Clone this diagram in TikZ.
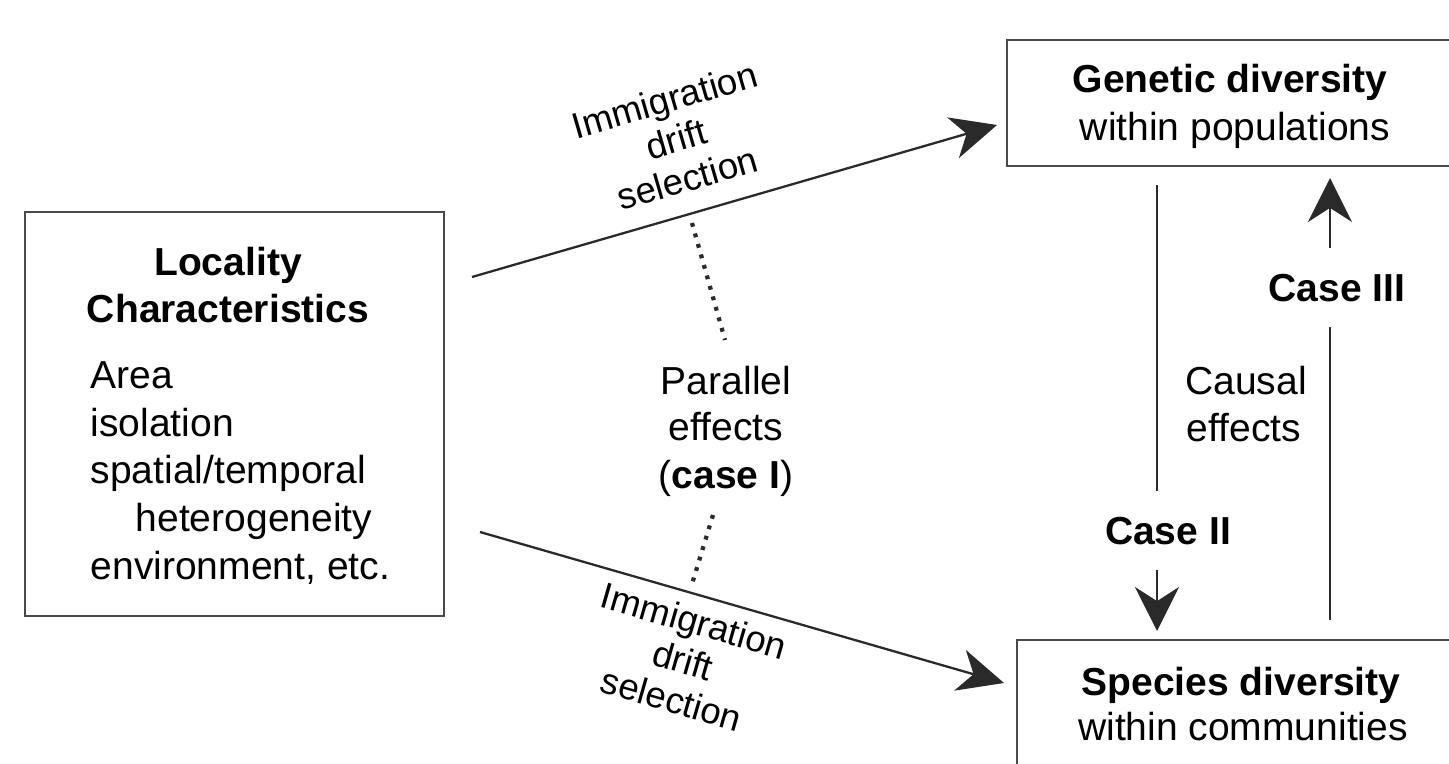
\documentclass[tikz,border=0pt]{standalone}
\usepackage{fontspec}
\setmainfont{Liberation Sans}
\usetikzlibrary{arrows.meta}
\definecolor{linegray}{HTML}{2A2A2A}
\definecolor{boxgray}{HTML}{4A4A4A}
\tikzset{
  box/.style={draw=boxgray, line width=0.65pt, inner sep=0pt},
  txt/.style={font=\fontsize{11.1pt}{13.4pt}\selectfont, inner sep=0pt, anchor=base, text=black},
  rot/.style={font=\fontsize{10.4pt}{11.6pt}\selectfont, inner sep=0pt, align=center, text=black},
  conn/.style={draw=linegray, line width=0.65pt},
  bigarrow/.style={conn, -{Stealth[length=13pt, width=12pt, inset=4pt]}},
  dots/.style={draw=linegray, line width=1.2pt, dash pattern=on 1.1pt off 2.0pt},
}
\begin{document}
\begin{tikzpicture}[x=0.01cm, y=-0.01cm]
\useasboundingbox (0,0) rectangle (1449,764);
\clip (0,0) rectangle (1449,764);
\fill[white] (0,0) rectangle (1449,764);
% boxes
\node[box, minimum width=4.19cm, minimum height=4.04cm] (loc) at (234.5,414) {};
\node[box, minimum width=4.60cm, minimum height=1.26cm] (gen) at (1237,103) {};
\node[box, minimum width=4.60cm, minimum height=1.60cm] (spe) at (1247,720) {};
% left box text
\node[txt, font=\fontsize{11.1pt}{13.4pt}\selectfont\bfseries] (t1) at (228,276) {Locality};
\node[txt, font=\fontsize{11.1pt}{13.4pt}\selectfont\bfseries] (t2) at (228,323) {Characteristics};
\node[txt, anchor=base west] (l1) at (90,389) {Area};
\node[txt, anchor=base west] (l2) at (90,436) {isolation};
\node[txt, anchor=base west] (l3) at (90,483) {spatial/temporal};
\node[txt, anchor=base west] (l4) at (135,531) {heterogeneity};
\node[txt, anchor=base west] (l5) at (90,579) {environment, etc.};
% right boxes text
\node[txt, font=\fontsize{11.1pt}{13.4pt}\selectfont\bfseries] (g1) at (1230,93) {Genetic diversity};
\node[txt] (g2) at (1235,141) {within populations};
\node[txt, font=\fontsize{11.1pt}{13.4pt}\selectfont\bfseries] (s1) at (1241,695) {Species diversity};
\node[txt] (s2) at (1243,740) {within communities};
% middle text
\node[txt] (p1) at (726,394) {Parallel};
\node[txt] (p2) at (726,440) {effects};
\node[txt] (p3) at (726,488) {(\textbf{case I})};
\node[txt] (c1) at (1246,395) {Causal};
\node[txt] (c2) at (1244,441) {effects};
\node[txt, font=\fontsize{11.1pt}{13.4pt}\selectfont\bfseries] (k2) at (1168,544) {Case II};
\node[txt, font=\fontsize{11.1pt}{13.4pt}\selectfont\bfseries] (k3) at (1337,302) {Case III};
% rotated labels
\node[rot, rotate=16.2] (u) at (676,139) {Immigration\\drift\\selection};
\node[rot, rotate=-16.1] (d) at (683,660) {Immigration\\drift\\selection};
% main arrows
\coordinate (a1s) at (472,277);
\coordinate (a1e) at (997,125);
\coordinate (a2s) at (480,532);
\coordinate (a2e) at (1004,683);
\draw[bigarrow] (a1s) -- (a1e);
\draw[bigarrow] (a2s) -- (a2e);
% vertical lines
\coordinate (v1a) at (1157,185);
\coordinate (v1b) at (1157,491);
\coordinate (v1c) at (1157,570);
\coordinate (v1d) at (1157,631);
\draw[conn] (v1a) -- (v1b);
\draw[conn, -{Stealth[length=12.5pt, width=12.5pt, inset=4pt]}] (v1c) -- (v1d);
\coordinate (v2a) at (1330,620);
\coordinate (v2b) at (1330,327);
\coordinate (v2c) at (1330,248);
\coordinate (v2d) at (1330,178);
\draw[conn] (v2a) -- (v2b);
\draw[conn, -{Stealth[length=12.5pt, width=12.5pt, inset=4pt]}] (v2c) -- (v2d);
% dotted
\coordinate (d1a) at (692,223);
\coordinate (d1b) at (725,340);
\coordinate (d2a) at (713,515);
\coordinate (d2b) at (692,584);
\draw[dots] (d1a) -- (d1b);
\draw[dots] (d2a) -- (d2b);
\end{tikzpicture}
\end{document}
